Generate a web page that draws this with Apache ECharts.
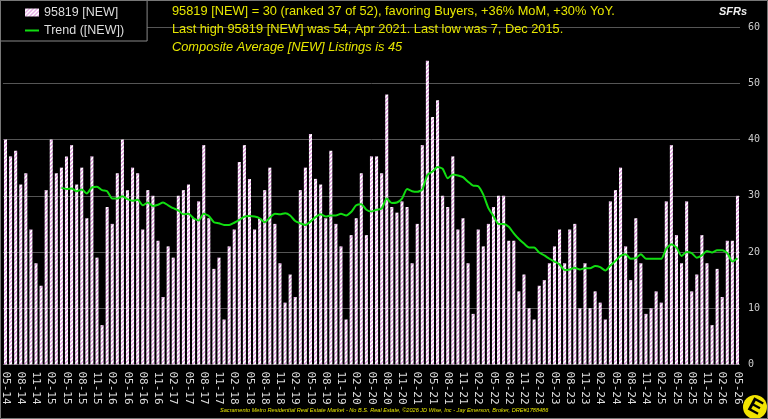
<!DOCTYPE html>
<html>
<head>
<meta charset="utf-8">
<script src="https://cdn.jsdelivr.net/npm/echarts@6/dist/echarts.min.js"></script>
<style>
  html, body { margin: 0; padding: 0; background: #000; }
  #chart { width: 768px; height: 419px; }
</style>
</head>
<body>
<div id="chart"></div>
<script>
// monthly new listings, May 2014 .. May 2026
var listings = [
  40, 37, 38, 32, 34, 24, 18, 14, 31, 40, 34, 35,
  37, 39, 32, 35, 26, 37, 19, 7, 28, 25, 34, 40,
  31, 35, 34, 24, 31, 30, 22, 12, 21, 19, 30, 31,
  32, 26, 29, 39, 26, 17, 19, 8, 21, 24, 36, 39,
  33, 24, 26, 31, 35, 25, 18, 11, 16, 12, 31, 35,
  41, 33, 32, 26, 38, 25, 21, 8, 23, 26, 34, 23,
  37, 37, 34, 48, 28, 27, 29, 28, 18, 25, 39, 54,
  44, 47, 30, 28, 37, 24, 26, 18, 9, 24, 21, 25,
  28, 30, 30, 22, 22, 13, 16, 10, 8, 14, 15, 18,
  21, 24, 18, 24, 25, 10, 18, 10, 13, 11, 8, 29,
  31, 35, 21, 15, 26, 18, 9, 10, 13, 11, 29, 39,
  23, 18, 29, 13, 16, 23, 18, 7, 17, 12, 22, 22,
  30
];

// trend line (starts Apr 2015)
var trend = [
  null, null, null, null, null, null, null, null, null, null, null, 31.4,
  31.2, 31.3, 30.8, 31.1, 30.4, 31.5, 31.6, 31.0, 30.8, 29.5, 29.5, 29.9,
  29.4, 29.1, 29.3, 28.3, 28.8, 28.2, 28.4, 28.8, 28.3, 27.8, 27.4, 26.7,
  26.8, 26.0, 25.6, 26.8, 26.4, 25.3, 25.1, 24.8, 24.8, 25.2, 25.7, 26.3,
  26.4, 26.3, 26.0, 25.3, 26.1, 26.8, 26.7, 26.9, 26.5, 25.5, 25.1, 24.8,
  25.4, 26.2, 26.7, 26.3, 26.5, 26.5, 26.8, 26.5, 27.1, 28.3, 28.5, 27.5,
  27.2, 27.5, 27.7, 29.5, 28.7, 28.8, 29.5, 31.2, 30.8, 30.7, 31.1, 33.7,
  34.3, 35.1, 34.8, 33.1, 33.8, 33.6, 33.3, 32.5, 31.8, 31.7, 30.2, 27.8,
  26.4, 25.0, 25.0, 24.5, 23.3, 22.3, 21.5, 20.8, 20.8, 19.9, 19.4, 18.8,
  18.3, 17.8, 16.8, 16.9, 17.2, 16.9, 17.1, 17.1, 17.5, 17.3, 16.7, 17.6,
  18.4, 19.3, 19.6, 18.8, 18.9, 19.6, 18.8, 18.8, 18.8, 18.8, 20.6, 21.4,
  20.8, 19.3, 20.0, 19.8, 19.0, 19.4, 20.2, 19.9, 20.3, 20.3, 19.8, 18.3,
  18.9
];

var yTicks = [0, 10, 20, 30, 40, 50, 60];

var headline = [
  "95819 [NEW] = 30 (ranked 37 of 52), favoring Buyers, +36% MoM, +30% YoY.",
  "Last high 95819 [NEW] was 54, Apr 2021. Last low was 7, Dec 2015.",
  "Composite Average [NEW] Listings is 45"
];

// MM-YY labels
var months = [];
for (var i = 0; i < listings.length; i++) {
  var m = (4 + i) % 12 + 1;
  var y = 14 + Math.floor((4 + i) / 12);
  months.push((m < 10 ? "0" : "") + m + "-" + y);
}

// white/pink hatch for the bars
var pat = document.createElement("canvas");
pat.width = 4; pat.height = 4;
var g = pat.getContext("2d");
g.fillStyle = "#ffffff"; g.fillRect(0, 0, 4, 4);
g.fillStyle = "#e6aee6";
for (var r = 0; r < 4; r++) {
  g.fillRect((3 - r + 4) % 4, r, 1, 1);
  g.fillRect((4 - r + 4) % 4, r, 1, 1);
}

// plain line icon for the trend entry (outer moves keep the box 14x8)
var lineIcon = "path://M0,0 M14,8 M0,3 L14,3 L14,5 L0,5 Z";

var chart = echarts.init(document.getElementById("chart"));
chart.setOption({
  backgroundColor: "#000",
  animation: false,
  grid: { left: 0, right: 28, top: 27, bottom: 54.5 },
  legend: {
    orient: "vertical", left: 0, top: 0,
    padding: [6, 23, 4, 25], itemGap: 5, itemWidth: 14, itemHeight: 8,
    backgroundColor: "#000", borderColor: "#888", borderWidth: 1,
    textStyle: { color: "#ddd", fontSize: 12.5, fontFamily: "Liberation Sans" },
    data: [
      { name: "95819 [NEW]", icon: "rect" },
      { name: "Trend ([NEW])", icon: lineIcon }
    ]
  },
  xAxis: {
    type: "category",
    data: months,
    boundaryGap: true,
    axisLine: { show: false },
    axisTick: { show: false },
    axisLabel: {
      interval: 2, rotate: -90, margin: 7,
      color: "#ddd", fontSize: 11, fontFamily: "DejaVu Sans Mono"
    }
  },
  yAxis: {
    type: "value", position: "right",
    min: yTicks[0], max: yTicks[yTicks.length - 1], interval: 10,
    axisLine: { show: false }, axisTick: { show: false },
    splitLine: { lineStyle: { color: "#555", width: 1 } },
    axisLabel: { margin: 8, color: "#ccc", fontSize: 10, fontFamily: "DejaVu Sans Mono" }
  },
  series: [
    {
      name: "95819 [NEW]", type: "bar", data: listings,
      barCategoryGap: "40%",
      itemStyle: { color: { image: pat, repeat: "repeat" } },
      z: 2
    },
    {
      name: "Trend ([NEW])", type: "line", data: trend,
      symbol: "none", smooth: 0.2,
      lineStyle: { color: "#11dd11", width: 2 },
      itemStyle: { color: "#11dd11" },
      z: 3
    }
  ],
  graphic: [
    { type: "text", left: 172, top: 5, z: 10,
      style: { text: headline[0], fill: "#e6e600", font: "12.8px 'Liberation Sans'" } },
    { type: "text", left: 172, top: 23, z: 10,
      style: { text: headline[1], fill: "#e6e600", font: "12.8px 'Liberation Sans'" } },
    { type: "text", left: 172, top: 41, z: 10,
      style: { text: headline[2], fill: "#e6e600", font: "italic 12.8px 'Liberation Sans'" } },
    { type: "text", left: 719, top: 6, z: 10,
      style: { text: "SFRs", fill: "#eee", font: "italic bold 11px 'Liberation Sans'" } },
    { type: "text", left: 220, top: 407, z: 10,
      style: { text: "Sacramento Metro Residential Real Estate Market - No B.S. Real Estate, \u00a92026 JD Wise, Inc - Jay Emerson, Broker, DRE#1788486",
        fill: "#e6e600", font: "italic 5.6px 'Liberation Sans'" } },
    { type: "circle", shape: { cx: 755, cy: 407, r: 12 }, z: 10, style: { fill: "#f2e400" } },
    { type: "text", x: 755, y: 407, rotation: -0.5, z: 11,
      style: { text: "E", fill: "#000", font: "bold 20px 'Liberation Sans'", align: "center", verticalAlign: "middle" } },
    { type: "rect", shape: { x: 0.5, y: 0.5, width: 767, height: 418 }, z: 20,
      style: { fill: "none", stroke: "#777", lineWidth: 1 } }
  ]
});
</script>
</body>
</html>
